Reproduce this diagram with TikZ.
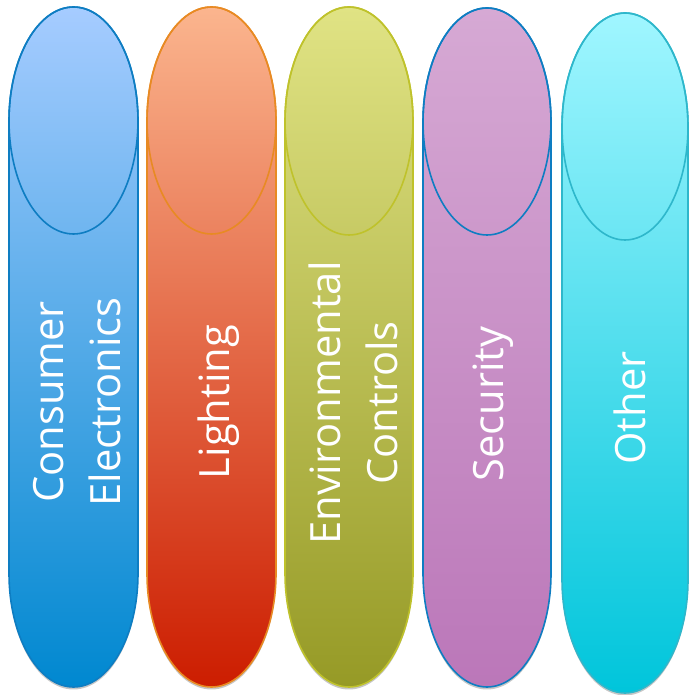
\documentclass[tikz,border=0pt]{standalone}
\usepackage{fontspec}
\setmainfont{Open Sans}
\usetikzlibrary{shadows}
\definecolor{aT}{HTML}{A6CCFF}\definecolor{aB}{HTML}{0088D0}\definecolor{aL}{HTML}{0E7DC2}
\definecolor{bT}{HTML}{FBB58E}\definecolor{bB}{HTML}{CC1D00}\definecolor{bL}{HTML}{E88A23}
\definecolor{cT}{HTML}{E0E384}\definecolor{cB}{HTML}{969A26}\definecolor{cL}{HTML}{BFC22B}
\definecolor{dT}{HTML}{D6A9D4}\definecolor{dB}{HTML}{BB77B9}\definecolor{dL}{HTML}{0E7DC2}
\definecolor{eT}{HTML}{A0F6FF}\definecolor{eB}{HTML}{00C5DB}\definecolor{eL}{HTML}{2EB7CB}
\tikzset{
  pillarline/.style={line width=1.6pt},
  softshadow/.style={drop shadow={shadow xshift=0pt,shadow yshift=-2.5pt,opacity=0.22,fill=black}},
  lbl/.style={text=white, rotate=90, align=center, inner sep=0pt,
    font=\fontsize{41.7}{57}\selectfont}
}
% #1 xc, #2 rx, #3 top centre Y, #4 bottom centre Y, #5 ry, #6 top colour, #7 bottom colour, #8 line colour
\newcommand{\drawpillar}[8]{%
  \path[pillarline, draw=#8, top color=#6, bottom color=#7, softshadow]
    ({#1-#2},#3) arc[start angle=180,end angle=0,x radius=#2,y radius=#5]
    -- ({#1+#2},#4) arc[start angle=0,end angle=-180,x radius=#2,y radius=#5] -- cycle;
  \draw[pillarline, draw=#8] (#1,#3) ellipse[x radius=#2, y radius=#5];
}
\begin{document}
\begin{tikzpicture}[x=1pt,y=1pt]
\useasboundingbox (0,0) rectangle (688,695);
\drawpillar{73.5}{64.5}{574.5}{121.5}{113.5}{aT}{aB}{aL}
\drawpillar{211.5}{64.5}{574.5}{121.5}{113.5}{bT}{bB}{bL}
\drawpillar{349}{64}{574}{122}{114}{cT}{cB}{cL}
\drawpillar{487}{64}{573.5}{121.5}{113.5}{dT}{dB}{dL}
\drawpillar{625}{63}{568.5}{115.5}{113.5}{eT}{eB}{eL}
\node[lbl] (t1) at (77.5,293) {Consumer\\Electronics};
\node[lbl] (t2) at (219,293) {Lighting};
\node[lbl] (t3) at (353.5,292) {Environmental\\Controls};
\node[lbl] (t4) at (493,291) {Security};
\node[lbl] (t5) at (630,287) {Other};
\end{tikzpicture}
\end{document}
